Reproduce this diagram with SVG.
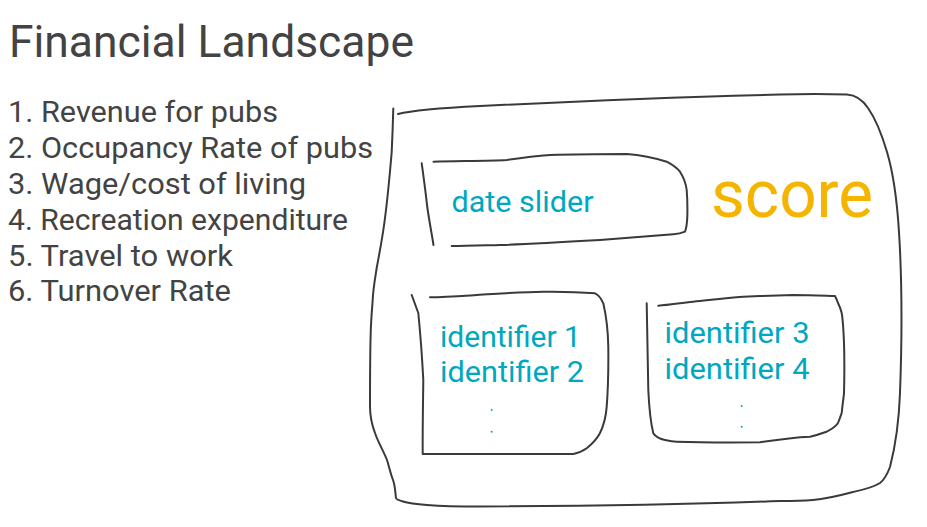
<svg xmlns="http://www.w3.org/2000/svg" width="927" height="527" viewBox="0 0 927 527">
<style>
.t{font-family:Roboto,"Liberation Sans",sans-serif;fill:#434343}
.c{font-family:Roboto,"Liberation Sans",sans-serif;fill:#00a8bf;font-size:30px}
.s{fill:none;stroke:#3a3a3a;stroke-width:2;stroke-linecap:round;stroke-linejoin:round}
</style>
<rect width="927" height="527" fill="#fff"/>
<g id="title"><text class="t" x="9" y="57" font-size="44" textLength="405" lengthAdjust="spacingAndGlyphs">Financial Landscape</text></g>
<g id="list" font-size="30">
<text class="t" x="8" y="121.5" textLength="270" lengthAdjust="spacingAndGlyphs">1. Revenue for pubs</text>
<text class="t" x="8" y="157.5" textLength="365" lengthAdjust="spacingAndGlyphs">2. Occupancy Rate of pubs</text>
<text class="t" x="8" y="193.5" textLength="298" lengthAdjust="spacingAndGlyphs">3. Wage/cost of living</text>
<text class="t" x="8" y="229.5" textLength="340" lengthAdjust="spacingAndGlyphs">4. Recreation expenditure</text>
<text class="t" x="8" y="265.5" textLength="225" lengthAdjust="spacingAndGlyphs">5. Travel to work</text>
<text class="t" x="8" y="301" textLength="223" lengthAdjust="spacingAndGlyphs">6. Turnover Rate</text>
</g>
<g id="connectors"></g>
<g id="outer">
<path class="s" d="M398,114 C410,111 440,108 480,106 C560,102 680,97 780,94.5 C800,94 830,94 847,94.5 C855,95 862,99 868,108 C875,118 882,135 887,152 C893,172 897,200 899,232 C902,280 902,340 900,393 C899,420 897,440 890,467 C887,475 884,480 880,483 C872,488 862,490 853,492 C838,496 825,499 813,500 C800,501 790,501 780,501 C700,504 600,506 480,506.5 C455,506.5 440,506 427,505 C415,504 408,503 403,501.5 C398,500 396,499 396,498 C395,490 395,485 393,480 C390,472 389,466 387,460 C383,450 378,442 375,433 C372,425 370,416 370,406.5 C370,380 370,355 370.7,333 C371,320 372,310 372.7,300 C373,290 375,279 376.7,268 C380,250 383,235 385,218 C388,195 390,172 391.7,152 C392.5,135 393,120 393.3,108.5"/>
</g>
<g id="dateSlider">
<path class="s" d="M421.7,163.3 C424,180 426,195 427,205 C429,220 432,235 433.5,245"/>
<path class="s" d="M433.5,161.7 C460,161 490,161 506.7,160 C520,158 535,156 550,155 C580,154 605,154 626.7,154 C640,155 655,158 666.7,161.7 C673,165 677,168 680,171.7 C684,178 686,184 686.7,190 C687.5,200 687.5,210 687.3,216.7 C687,225 686,229 685,231.7 C682,233 678,234 673.3,234.3 C650,236 625,238 600,240 C565,242 530,244 500,245 C480,245.5 465,246 451.7,246"/>
<text class="c" x="451.5" y="211.7" textLength="142" lengthAdjust="spacingAndGlyphs">date slider</text>
</g>
<g id="score"><text x="711" y="216.7" font-size="66" font-family="Roboto,'Liberation Sans',sans-serif" fill="#f4b400" textLength="162" lengthAdjust="spacingAndGlyphs">score</text></g>
<g id="box1">
<path class="s" d="M411.7,295 C414,301 416,307 418.3,313 C420,330 422,355 423.3,380 C423,405 422.5,430 422.7,454 C450,454 520,454 573.3,454 C579,453 583,451 586.7,448.3 C592,444 597,439 600,433 C604,425 606,416 606.7,406.7 C608,390 608.5,365 608.3,346.7 C608,330 606,315 603.3,303.3 C601,298 599,295 595,293.3 C580,292 560,291.5 543.3,291.7 C520,292 495,294 476.7,295 C460,296 445,297 430,297.3"/>
<text class="c" x="440" y="346.7" textLength="141" lengthAdjust="spacingAndGlyphs">identifier 1</text>
<text class="c" x="440" y="381.7" textLength="144" lengthAdjust="spacingAndGlyphs">identifier 2</text>
<circle cx="491.7" cy="410" r="1" fill="#00a8bf"/>
<circle cx="491.7" cy="431.7" r="1" fill="#00a8bf"/>
</g>
<g id="box2">
<path class="s" d="M646.7,303.3 C647,330 647.5,360 648.3,390 C649,405 650,420 653.3,433.3 C656,437 660,439 665,440 C670,441 673,441.5 676.7,441.7 C700,442.5 735,442.5 760,442.3 C775,440 790,437.5 810,436.7 C818,435 823,433 826.7,431.7 C832,429 836,426 838,423 C840,418 841,415 841.7,413 C843,400 844,395 844,393 C844.5,375 844.5,360 844,343 C843.5,330 843,320 841.7,313 C840.5,308 839,305 838,303 C837,300 836,298 835,296 C820,295.5 810,295 793.3,295 C775,295.5 760,296 743.3,296.7 C725,298 710,300 693.3,301.7 C680,303 670,305 658.3,305.7"/>
<text class="c" x="664.5" y="342.7" textLength="145" lengthAdjust="spacingAndGlyphs">identifier 3</text>
<text class="c" x="664.5" y="379.3" textLength="145" lengthAdjust="spacingAndGlyphs">identifier 4</text>
<circle cx="741.7" cy="406" r="1" fill="#00a8bf"/>
<circle cx="741.7" cy="426.7" r="1" fill="#00a8bf"/>
</g>
</svg>
